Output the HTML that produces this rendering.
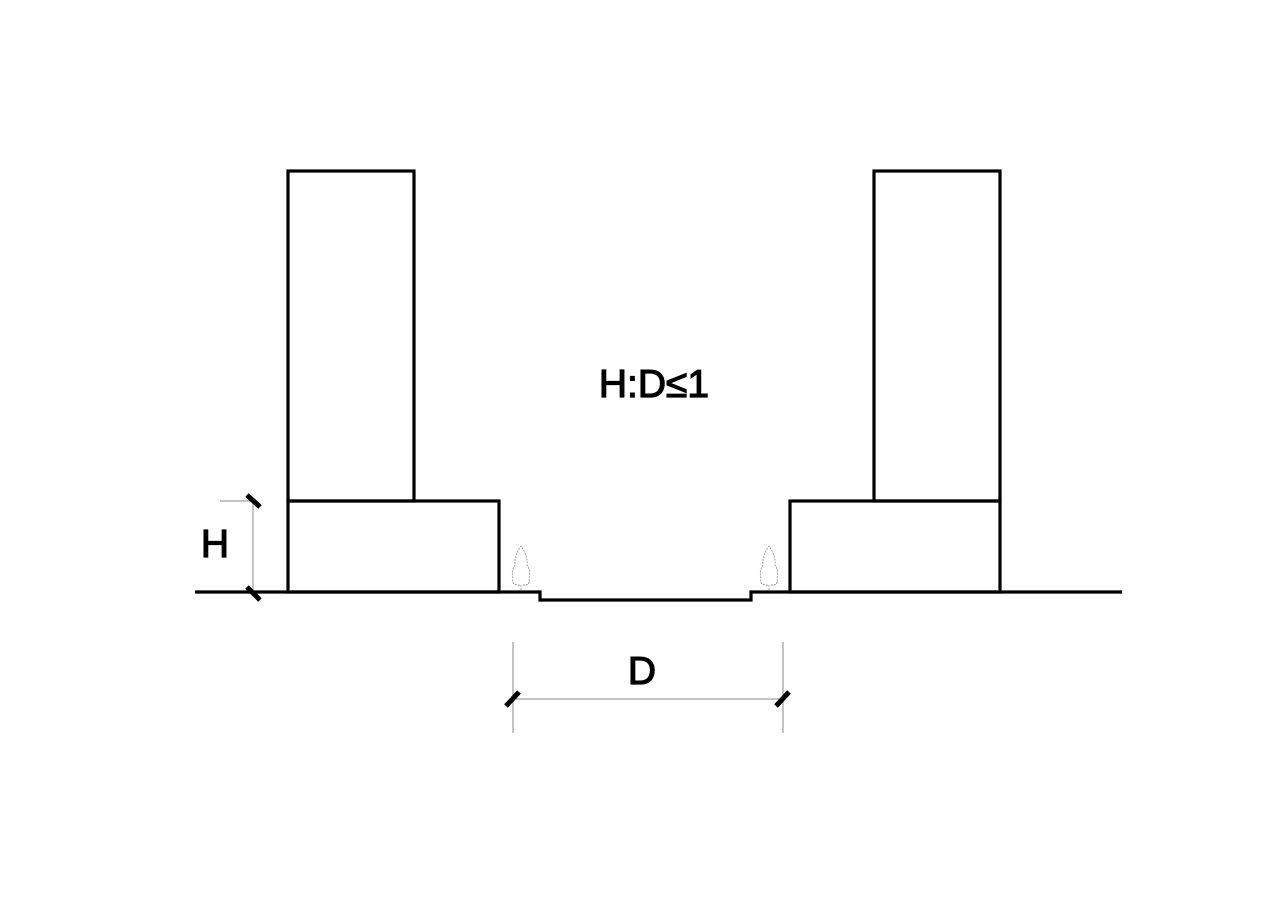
<!DOCTYPE html>
<html><head><style>html,body{margin:0;padding:0;background:#fff}</style></head>
<body>
<svg width="1269" height="898" viewBox="0 0 1269 898" xmlns="http://www.w3.org/2000/svg">
<rect width="1269" height="898" fill="#fff"/>
<g fill="none" stroke="#000" stroke-width="3.2">
<rect x="288" y="171" width="126" height="330"/>
<rect x="288" y="501" width="211" height="91"/>
<rect x="874" y="171" width="126" height="330"/>
<rect x="790" y="501" width="210" height="91"/>
<polyline points="195,592 540,592 540,600 751,600 751,592 1122,592"/>
</g>
<g stroke="#888" stroke-width="1" fill="none">
<line x1="253" y1="501" x2="253" y2="592"/>
<line x1="220" y1="501" x2="253" y2="501"/>
<line x1="513" y1="642" x2="513" y2="733"/>
<line x1="783" y1="642" x2="783" y2="733"/>
<line x1="513" y1="699" x2="783" y2="699"/>
</g>
<g stroke="#000" stroke-width="5">
<line x1="247" y1="495" x2="260" y2="507"/>
<line x1="247" y1="587" x2="260" y2="600"/>
<line x1="506" y1="706" x2="519" y2="692"/>
<line x1="776" y1="706" x2="789" y2="692"/>
</g>
<g fill="none" stroke="#999" stroke-width="0.9" stroke-dasharray="2,1">
<path d="M521,590 L521,585 Q511,586 513,578 Q511,570 515,565 Q514,556 521,546 Q528,556 527,565 Q531,570 529,578 Q531,586 522,585"/>
<path d="M769,590 L769,585 Q759,586 761,578 Q759,570 763,565 Q762,556 769,546 Q776,556 775,565 Q779,570 777,578 Q779,586 770,585"/>
</g>
<g font-family="'Liberation Sans', 'DejaVu Sans', sans-serif" fill="#000" stroke="#000" stroke-width="1.2">
<text x="654" y="397" font-size="39" text-anchor="middle">H:D≤1</text>
<text x="215" y="557" font-size="39" text-anchor="middle">H</text>
<text x="642" y="684" font-size="39" text-anchor="middle">D</text>
</g>
</svg>
</body></html>
